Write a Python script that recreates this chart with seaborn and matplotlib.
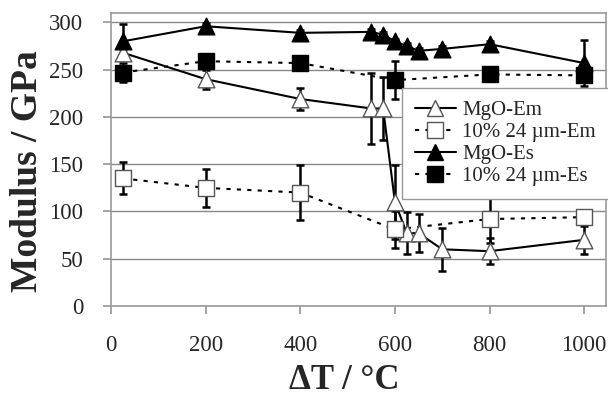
import numpy as np
import pandas as pd
import matplotlib
matplotlib.use("Agg")
import matplotlib.pyplot as plt
import seaborn as sns
from matplotlib.lines import Line2D

# ---- data ----
temp_mgo = [25, 200, 400, 550, 575, 600, 625, 650, 700, 800, 1000]
mgo_em = [268, 240, 219, 209, 209, 110, 77, 77, 60, 58, 70]
mgo_em_err = [4, 10, 12, 38, 33, 39, 22, 20, 23, 14, 15]
mgo_es = [280, 296, 289, 290, 287, 280, 275, 270, 272, 277, 257]
mgo_es_err = [18, 3, 3, 3, 3, 3, 3, 3, 3, 3, 24]

temp_comp = [25, 200, 400, 600, 800, 1000]
comp_em = [135, 125, 120, 81, 92, 94]
comp_em_err = [17, 20, 29, 20, 25, 5]
comp_es = [247, 259, 257, 239, 245, 244]
comp_es_err = [10, 3, 3, 20, 3, 5]

labels = ["MgO-Em", "10% 24 \u00b5m-Em", "MgO-Es", "10% 24 \u00b5m-Es"]
x_ticks = [0, 200, 400, 600, 800, 1000]
y_ticks = [0, 50, 100, 150, 200, 250, 300]

sns.set_theme(style="white")
plt.rcParams["font.family"] = ["Liberation Serif", "DejaVu Serif"]

fig = plt.figure(figsize=(6.08, 3.96), dpi=100)
ax = fig.add_axes([111/608, 1-306/396, 495/608, 293/396])

series = [
    (temp_mgo, mgo_em, mgo_em_err, "^", "white", "-", 12),
    (temp_comp, comp_em, comp_em_err, "s", "white", (0, (2, 3)), 11),
    (temp_mgo, mgo_es, mgo_es_err, "^", "black", "-", 12),
    (temp_comp, comp_es, comp_es_err, "s", "black", (0, (2, 3)), 11),
]

handles = []
for (xs, ys, es, mk, fc, ls, ms), lab in zip(series, labels):
    df = pd.DataFrame({"T": xs, "E": ys})
    ax.errorbar(xs, ys, yerr=es, fmt="none", ecolor="black", elinewidth=1.8,
                capsize=3, capthick=1.8, zorder=2)
    sns.lineplot(data=df, x="T", y="E", ax=ax, color="black", linewidth=1.5,
                 linestyle=ls, sort=True, zorder=3, legend=False)
    ec = "#555555" if fc == "white" else "black"
    sns.scatterplot(data=df, x="T", y="E", ax=ax, marker=mk, s=ms**2,
                    facecolor=fc, edgecolor=ec, linewidth=1.0, zorder=4,
                    legend=False)
    handles.append(Line2D([0], [0], color="black", linestyle=ls, linewidth=1.5,
                          marker=mk, markersize=ms, markerfacecolor=fc,
                          markeredgecolor=ec))

ax.set_xlim(0, 1046)
ax.set_ylim(0, 310)
ax.set_xticks(x_ticks)
ax.set_yticks(y_ticks)
ax.set_xticklabels([str(t) for t in x_ticks], fontsize=16.5)
ax.set_yticklabels([str(t) for t in y_ticks], fontsize=16.5)
ax.yaxis.grid(True, color="#888888", linewidth=1.0)
ax.set_axisbelow(True)
for s in ax.spines.values():
    s.set_color("#999999")
    s.set_linewidth(1.2)
ax.tick_params(axis="x", direction="out", length=6, color="#999999", pad=15)
ax.tick_params(axis="y", direction="out", length=6, color="#999999", pad=14)
ax.tick_params(bottom=True, left=True)

ax.set_xlabel("\u0394T / \u00b0C", fontsize=25, fontweight="bold")
ax.xaxis.set_label_coords(0.471, -0.283)
ax.xaxis.label.set_verticalalignment("baseline")
ax.set_ylabel("Modulus / GPa", fontsize=27, fontweight="bold")
ax.yaxis.set_label_coords(-0.1495, 0.459)
ax.yaxis.label.set_verticalalignment("baseline")

leg = ax.legend(handles, labels, loc="upper left", bbox_to_anchor=(0.588, 0.744),
                borderaxespad=0, fancybox=False, frameon=True, fontsize=15,
                handlelength=2.0, handletextpad=0.3, labelspacing=0.12,
                borderpad=0.6)
leg.get_frame().set_edgecolor("#999999")
leg.get_frame().set_linewidth(1.0)
leg.get_frame().set_alpha(1)

fig.savefig("out.png", dpi=100)
